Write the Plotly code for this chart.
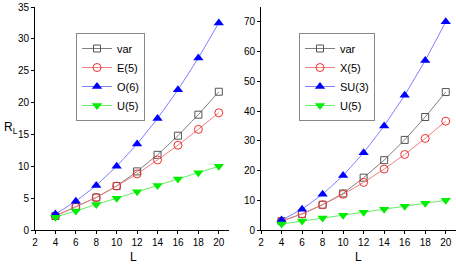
import plotly.graph_objects as go

L = [4, 6, 8, 10, 12, 14, 16, 18, 20]

left_var = [2.2, 3.6, 5.1, 6.9, 9.2, 11.8, 14.8, 18.1, 21.7]
left_e5 = [2.2, 3.6, 5.1, 6.9, 8.8, 11.0, 13.3, 15.8, 18.4]
left_o6 = [2.5, 4.5, 7.0, 10.0, 13.5, 17.5, 22.0, 27.0, 32.5]
left_u5 = [2, 3, 4, 5, 6, 7, 8, 9, 10]

right_var = [3.0, 5.4, 8.5, 12.3, 17.6, 23.5, 30.3, 38.0, 46.4]
right_x5 = [3.0, 5.4, 8.5, 12.0, 16.0, 20.5, 25.4, 30.8, 36.6]
right_su3 = [3.33, 7.0, 12.0, 18.3, 26.0, 35.0, 45.3, 57.0, 70.0]
right_u5 = [2, 3, 4, 5, 6, 7, 8, 9, 10]

FONT = "Liberation Sans, Arial, sans-serif"

styles = {
    "var": dict(line=dict(color="#808080", width=1), marker=dict(symbol="square-open", color="#555555", size=7, line=dict(width=1))),
    "red": dict(line=dict(color="#f08080", width=1), marker=dict(symbol="circle-open", color="#f03030", size=8, line=dict(width=1))),
    "blue": dict(line=dict(color="#8080ff", width=1), marker=dict(symbol="triangle-up", color="#0000ff", size=9)),
    "green": dict(line=dict(color="#66ee66", width=1), marker=dict(symbol="triangle-down", color="#00ee00", size=9)),
}

fig = go.Figure()

def add(y, name, st, xa, ya, leg):
    fig.add_trace(go.Scatter(x=L, y=y, name=name, mode="lines+markers",
                             xaxis=xa, yaxis=ya, legend=leg, **styles[st]))

add(left_var, "var", "var", "x", "y", "legend")
add(left_e5, "E(5)", "red", "x", "y", "legend")
add(left_o6, "O(6)", "blue", "x", "y", "legend")
add(left_u5, "U(5)", "green", "x", "y", "legend")
add(right_var, "var", "var", "x2", "y2", "legend2")
add(right_x5, "X(5)", "red", "x2", "y2", "legend2")
add(right_su3, "SU(3)", "blue", "x2", "y2", "legend2")
add(right_u5, "U(5)", "green", "x2", "y2", "legend2")

ax = dict(showline=True, linecolor="#000000", linewidth=1, ticks="outside", ticklen=3,
          tickcolor="#000000", showgrid=False, zeroline=False, automargin=False,
          tickfont=dict(family=FONT, size=10, color="#000000"))

ydom = [1 - 230 / 266, 1 - 7 / 266]
fig.update_layout(
    template="none",
    width=456, height=266,
    margin=dict(l=0, r=0, t=0, b=0),
    paper_bgcolor="white", plot_bgcolor="white",
    font=dict(family=FONT, size=11, color="#000000"),
    xaxis=dict(ax, domain=[35 / 456, 229 / 456], range=[2, 21], tickvals=list(range(2, 21, 2)), anchor="y"),
    yaxis=dict(ax, domain=ydom, range=[0, 35], dtick=5, anchor="x"),
    xaxis2=dict(ax, domain=[261 / 456, 1.0], range=[2, 21], tickvals=list(range(2, 21, 2)), anchor="y2"),
    yaxis2=dict(ax, domain=ydom, range=[0, 75], tickvals=list(range(0, 71, 10)), anchor="x2"),
    legend=dict(x=76 / 456, y=1 - 33 / 266, xanchor="left", yanchor="top", bgcolor="white",
                bordercolor="#888888", borderwidth=1, font=dict(size=11), tracegroupgap=0,
                itemwidth=30),
    legend2=dict(x=299 / 456, y=1 - 33 / 266, xanchor="left", yanchor="top", bgcolor="white",
                 bordercolor="#888888", borderwidth=1, font=dict(size=11), tracegroupgap=0,
                 itemwidth=30),
    showlegend=True,
)

fig.add_annotation(text="R<sub>L</sub>", x=2 / 456, y=1 - 128 / 266, xref="paper", yref="paper",
                   xanchor="left", yanchor="middle", showarrow=False, font=dict(size=12))
fig.add_annotation(text="L", x=133 / 456, y=1 - 257 / 266, xref="paper", yref="paper",
                   xanchor="center", yanchor="middle", showarrow=False, font=dict(size=12))
fig.add_annotation(text="L", x=358 / 456, y=1 - 257 / 266, xref="paper", yref="paper",
                   xanchor="center", yanchor="middle", showarrow=False, font=dict(size=12))

fig.write_html("out.html", config={"displayModeBar": False},
               post_script="document.body.style.margin='0';document.body.style.overflow='hidden';")
